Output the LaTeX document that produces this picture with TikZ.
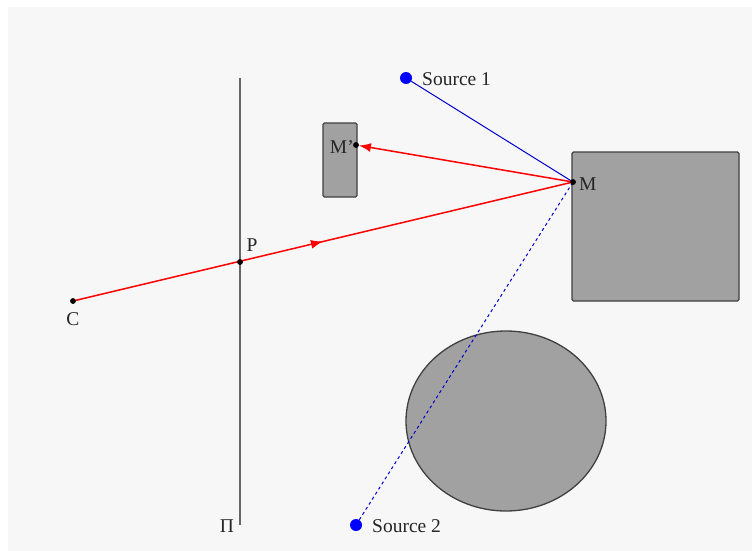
\documentclass[tikz,border=0pt]{standalone}
\usepackage{fontspec}
\setmainfont{Liberation Serif}
\usetikzlibrary{arrows.meta,decorations.markings}
\begin{document}
\begin{tikzpicture}[x=1pt,y=-1pt,
  lbl/.style={inner sep=0pt,font=\fontsize{19.5}{22}\selectfont,text=black!85},
  obj/.style={draw=black!75,fill=black!37,line width=1.3pt},
  ray/.style={draw=red,line width=1.5pt},
  pt/.style={circle,fill=black,inner sep=0pt,minimum size=5.5pt},
  src/.style={circle,fill=blue,inner sep=0pt,minimum size=12pt},
  midarrow/.style={postaction={decorate},decoration={markings,
     mark=at position 0.5 with {\arrow{Latex[length=12pt,width=9pt]}}}}]
\useasboundingbox (0,0) rectangle (752,551);
\fill[white] (0,0) rectangle (752,551);
\fill[black!3] (8,7) rectangle (752,551);
% objects
\draw[obj,rounded corners=1.5pt] (323,123) rectangle (357,197);
\draw[obj,rounded corners=1.5pt] (572,152) rectangle (739,301);
\draw[obj] (506,421) ellipse [x radius=100, y radius=90];
% plane
\coordinate (pitop) at (240,78);
\coordinate (pibot) at (240,525);
\draw[black!60,line width=2pt] (pitop) -- (pibot);
\node[lbl] (pilabel) at (227,526) {Π};
% points
\node[pt] (C) at (73,301) {};
\node[pt] (P) at (240,262) {};
\node[pt] (M) at (573,182) {};
\node[pt] (Mp) at (356,145) {};
\node[src] (S1) at (406,78) {};
\node[src] (S2) at (356,525) {};
% light rays
\draw[blue!80!black,line width=1pt] (S1) -- (M.center);
\draw[blue!80!black,line width=1pt,dashed] (S2) -- (M.center);
\draw[ray,midarrow] (C.center) -- (M.center);
\draw[ray,-{Latex[length=12pt,width=9pt]}] (M.center) -- (Mp);
% redraw points on top
\node[pt] at (C) {};
\node[pt] at (P) {};
\node[pt] at (M) {};
\node[pt] at (Mp) {};
% labels
\node[lbl] (Clabel) at (73,319) {C};
\node[lbl] (Plabel) at (252,245) {P};
\node[lbl,anchor=west] (Mlabel) at (579,184) {M};
\node[lbl,anchor=east] (Mplabel) at (354,147) {M'};
\node[lbl,anchor=west] (S1label) at (422,79) {Source 1};
\node[lbl,anchor=west] (S2label) at (372,526) {Source 2};
\end{tikzpicture}
\end{document}
